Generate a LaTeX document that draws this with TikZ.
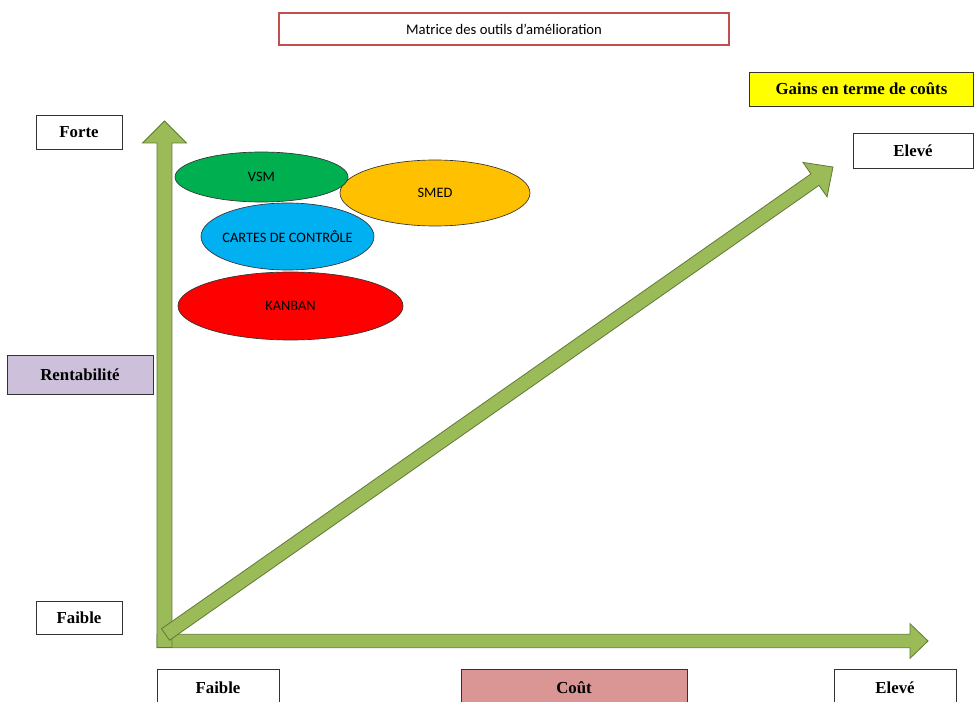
\documentclass[tikz,border=0pt]{standalone}
\usepackage{fontspec}
\setmainfont{Liberation Serif}
\newfontfamily\calib{Carlito}
\usetikzlibrary{calc,shapes.geometric}
\definecolor{axisgreen}{HTML}{9BBB59}
\definecolor{axisedge}{HTML}{5E7A35}
\definecolor{titlered}{HTML}{C0504D}
\definecolor{vsmgreen}{HTML}{00B050}
\definecolor{smedorange}{HTML}{FFC000}
\definecolor{cartesblue}{HTML}{00B0F0}
\definecolor{kanbanred}{HTML}{FF0000}
\definecolor{lavender}{HTML}{CCC0DA}
\definecolor{rosecout}{HTML}{DA9694}
\definecolor{gainyellow}{HTML}{FFFF00}
\newcommand\fatarrow[5]{%
  \coordinate (hb) at ($(#2)!#5!(#1)$);
  \filldraw[axisarrow] ($(#1)!#3!90:(#2)$) -- ($(hb)!#3!90:(#2)$) -- ($(hb)!#4!90:(#2)$)
    -- (#2) -- ($(hb)!#4!-90:(#2)$) -- ($(hb)!#3!-90:(#2)$) -- ($(#1)!#3!-90:(#2)$) -- cycle;
}
\tikzset{
  axisarrow/.style={fill=axisgreen, draw=axisedge, line width=0.6pt, line join=miter},
  labelbox/.style={draw=black!80, line width=0.6pt, fill=white, inner sep=0pt,
    font=\fontsize{12.6}{14}\selectfont\bfseries},
  tool/.style={ellipse, draw=black!80, line width=0.5pt, inner sep=0pt,
    font=\calib\fontsize{10.8}{12}\selectfont},
}
\begin{document}
\begin{tikzpicture}[x=0.75pt,y=-0.75pt]
\useasboundingbox (0,0) rectangle (974,702);

% title
\node[draw=titlered, line width=2.2pt, fill=white, inner sep=0pt,
  minimum width=450*0.75pt, minimum height=32*0.75pt,
  font=\calib\fontsize{11}{12}\selectfont] (title) at (504,29) {Matrice des outils d’amélioration};

% axes
\coordinate (vtail) at (164.5,647.5);
\coordinate (vtip) at (164.5,121);
\coordinate (htail) at (157,641);
\coordinate (htip) at (928,641);
\coordinate (dtail) at (165.5,634.5);
\coordinate (dtip) at (833,167);
\fatarrow{htail}{htip}{5pt}{13pt}{13.5pt}
\fatarrow{vtail}{vtip}{5.6pt}{16.5pt}{16.5pt}
\fatarrow{dtail}{dtip}{5.25pt}{15.75pt}{16.5pt}

% tools
\node[tool, fill=smedorange, minimum width=190*0.75pt, minimum height=66*0.75pt] (smed) at (435,193) {SMED};
\node[tool, fill=vsmgreen, minimum width=173*0.75pt, minimum height=50*0.75pt] (vsm) at (261.5,177) {VSM};
\node[tool, fill=cartesblue, inner xsep=-5pt, minimum width=173*0.75pt, minimum height=67*0.75pt] (cartes) at (287.5,236.5) {CARTES DE CONTRÔLE};
\node[tool, fill=kanbanred, minimum width=225*0.75pt, minimum height=68*0.75pt] (kanban) at (290.5,306) {KANBAN};

% labels
\node[labelbox, fill=gainyellow, minimum width=224*0.75pt, minimum height=34*0.75pt] (gains) at (861.5,89) {Gains en terme de coûts};
\node[labelbox, minimum width=120*0.75pt, minimum height=35*0.75pt] (elevehaut) at (913,150.5) {Elevé};
\node[labelbox, minimum width=86*0.75pt, minimum height=34*0.75pt] (forte) at (79,132) {Forte};
\node[labelbox, fill=lavender, minimum width=146*0.75pt, minimum height=39*0.75pt] (rent) at (80,374.5) {Rentabilité};
\node[labelbox, minimum width=86*0.75pt, minimum height=33*0.75pt] (faiblegauche) at (79,617.5) {Faible};
\node[labelbox, minimum width=122*0.75pt, minimum height=38*0.75pt] (faiblebas) at (218,688) {Faible};
\node[labelbox, fill=rosecout, minimum width=226*0.75pt, minimum height=38*0.75pt] (cout) at (574,688) {Coût};
\node[labelbox, minimum width=122*0.75pt, minimum height=38*0.75pt] (elevebas) at (895,688) {Elevé};
\end{tikzpicture}
\end{document}
